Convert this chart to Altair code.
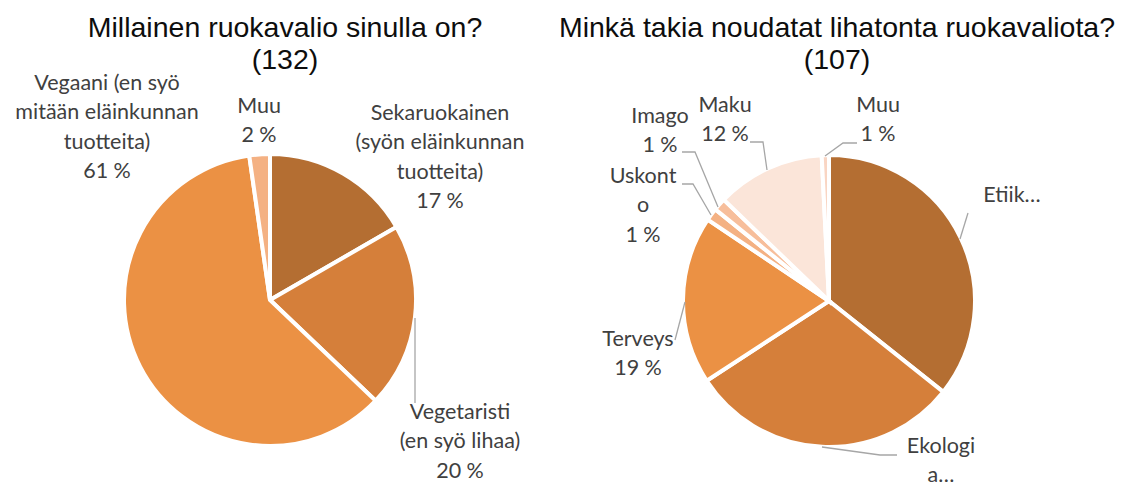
import altair as alt
import pandas as pd

# ---------------- data ----------------
diet_categories = [
    "Sekaruokainen (syön eläinkunnan tuotteita)",
    "Vegetaristi (en syö lihaa)",
    "Vegaani (en syö mitään eläinkunnan tuotteita)",
    "Muu",
]
diet_counts = [22, 27, 80, 3]
diet_total = 132
diet_title = ["Millainen ruokavalio sinulla on?", f"({diet_total})"]

reason_categories = ["Etiikka", "Ekologia", "Terveys", "Uskonto", "Imago", "Maku", "Muu"]
reason_shares = [35.7, 30.1, 18.6, 1.4, 1.4, 12.0, 0.8]
reason_total = 107
reason_title = ["Minkä takia noudatat lihatonta ruokavaliota?", f"({reason_total})"]

# label wrapping as shown on the chart (truncated labels show no percentage)
diet_label_lines = [
    ["Sekaruokainen", "(syön eläinkunnan", "tuotteita)"],
    ["Vegetaristi", "(en syö lihaa)"],
    ["Vegaani (en syö", "mitään eläinkunnan", "tuotteita)"],
    ["Muu"],
]
reason_label_lines = [
    ["Etiik…"],
    ["Ekologi", "a…"],
    ["Terveys"],
    ["Uskont", "o"],
    ["Imago"],
    ["Maku"],
    ["Muu"],
]
reason_show_pct = [False, False, True, True, True, True, True]

# ---------------- styles / layout ----------------
diet_colors = ["#B46E32", "#D57F3A", "#EB9144", "#F4B183"]
reason_colors = ["#B46E32", "#D57F3A", "#EB9144", "#F4B183", "#F7BE9B", "#FBE5D9", "#F9D5C3"]

M = 8  # page margin
W, H = 1110, 474
R = 144
diet_center = (270, 300)
reason_center = (829, 301)
LINE_H = 29.4

diet_label_pos = [(440, 114), (460, 413), (107, 84), (259, 107)]
reason_label_pos = [(1012, 196), (941, 447), (638, 340), (643, 177), (660, 117), (725, 106), (878, 106)]

leaders = [
    [(415, 318), (415, 403)],
    [(968, 213), (960, 239)],
    [(822, 447), (880, 455), (897, 455)],
    [(685, 302), (675, 340)],
    [(682, 184), (693, 184), (711, 215)],
    [(682, 152), (695, 152), (718, 207)],
    [(750, 142), (763, 142), (767, 170)],
    [(857, 143), (843, 143), (825, 156)],
]

# ---------------- tables ----------------
diet_df = pd.DataFrame({
    "cat": diet_categories,
    "value": diet_counts,
    "order": list(range(len(diet_categories))),
})
reason_df = pd.DataFrame({
    "cat": reason_categories,
    "value": reason_shares,
    "order": list(range(len(reason_categories))),
})

rows = []
for lines, cnt, (lx, ly) in zip(diet_label_lines, diet_counts, diet_label_pos):
    full = lines + [f"{round(100 * cnt / diet_total)} %"]
    for i, t in enumerate(full):
        rows.append({"x": lx - M, "y": ly + i * LINE_H - M, "text": t})
for lines, share, show, (lx, ly) in zip(reason_label_lines, reason_shares, reason_show_pct, reason_label_pos):
    full = lines + ([f"{round(share)} %"] if show else [])
    for i, t in enumerate(full):
        rows.append({"x": lx - M, "y": ly + i * LINE_H - M, "text": t})
labels_df = pd.DataFrame(rows)

title_rows = []
for (tx, lines) in [(285, diet_title), (837, reason_title)]:
    for i, t in enumerate(lines):
        title_rows.append({"x": tx - M, "y": 37 + i * 31.5 - M, "text": t})
titles_df = pd.DataFrame(title_rows)

lead_rows = []
for s, pts in enumerate(leaders):
    for i, (px, py) in enumerate(pts):
        lead_rows.append({"seg": s, "idx": i, "x": px - M, "y": py - M})
lead_df = pd.DataFrame(lead_rows)

# ---------------- marks ----------------
def pie(df, colors, center):
    return alt.Chart(df).mark_arc(
        outerRadius=R + 2, stroke="white", strokeWidth=4
    ).encode(
        theta=alt.Theta("value:Q", stack=True),
        order=alt.Order("order:Q"),
        color=alt.Color("cat:N", scale=alt.Scale(domain=list(df["cat"]), range=colors), legend=None),
        x=alt.value(center[0] - M),
        y=alt.value(center[1] - M),
    )

left_pie = pie(diet_df, diet_colors, diet_center)
right_pie = pie(reason_df, reason_colors, reason_center)

lead = alt.Chart(lead_df).mark_line(color="#A6A6A6", strokeWidth=1.3).encode(
    x=alt.X("x:Q", scale=None, axis=None),
    y=alt.Y("y:Q", scale=None, axis=None),
    detail="seg:N",
    order="idx:Q",
)

labels = alt.Chart(labels_df).mark_text(
    font="Lato", fontSize=21.5, color="#404040", align="center", baseline="middle"
).encode(
    x=alt.X("x:Q", scale=None, axis=None),
    y=alt.Y("y:Q", scale=None, axis=None),
    text="text:N",
)

titles = alt.Chart(titles_df).mark_text(
    font="Liberation Sans", fontSize=28.5, color="#0D0D0D", align="center", baseline="alphabetic"
).encode(
    x=alt.X("x:Q", scale=None, axis=None),
    y=alt.Y("y:Q", scale=None, axis=None),
    text="text:N",
)

chart = alt.layer(left_pie, right_pie, lead, labels, titles).resolve_scale(
    theta="independent", color="independent"
).properties(
    width=W, height=H, autosize=alt.AutoSizeParams(type="none"), padding=0, background="white"
).configure_view(stroke=None)

chart.save("out.html", embed_options={"renderer": "svg", "actions": False})
